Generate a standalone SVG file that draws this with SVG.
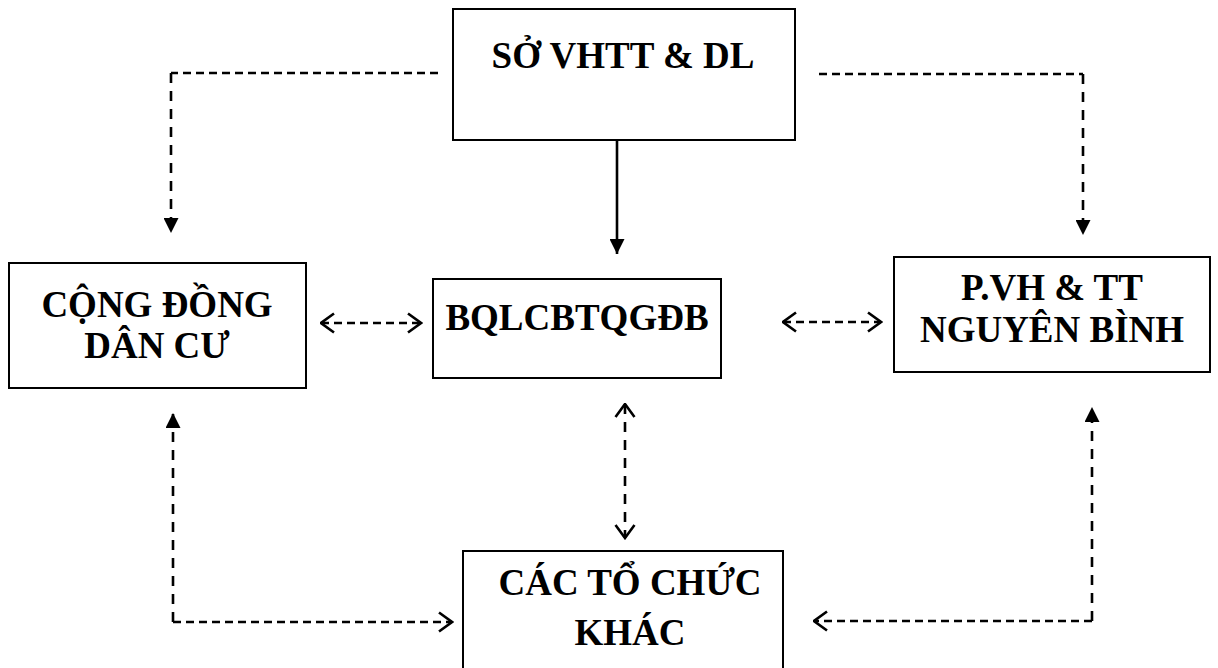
<svg xmlns="http://www.w3.org/2000/svg" width="1218" height="668" viewBox="0 0 1218 668">
<defs>
<marker id="fill" viewBox="0 0 10 10" refX="10" refY="5" markerWidth="15" markerHeight="15" markerUnits="userSpaceOnUse" orient="auto">
<path d="M0,0 L10,5 L0,10 Z" fill="#000"/>
</marker>
<marker id="open" viewBox="0 0 16 22" refX="14.5" refY="11" markerWidth="16" markerHeight="22" markerUnits="userSpaceOnUse" orient="auto-start-reverse">
<path d="M1.5,1.5 L14.5,11 L1.5,20.5" fill="none" stroke="#000" stroke-width="2.6"/>
</marker>
</defs>
<style>
.box{fill:#fff;stroke:#000;stroke-width:2}
.t{font-family:"Liberation Serif","Times New Roman",serif;font-weight:bold;font-size:37px;fill:#000;text-anchor:middle}
.c{fill:none;stroke:#000;stroke-width:2.6}
.h{stroke-dasharray:8 5}
.v{stroke-dasharray:10 8}
</style>
<rect width="1218" height="668" fill="#fff"/>
<g id="connectors">
<line class="c" x1="617" y1="141" x2="617" y2="254" marker-end="url(#fill)"/>
<path class="c h" d="M438,73 H171"/>
<path class="c v" d="M171,73 V233" marker-end="url(#fill)"/>
<path class="c h" d="M819,74 H1083"/>
<path class="c v" d="M1083,74 V235" marker-end="url(#fill)"/>
<line class="c h" x1="321" y1="323" x2="421" y2="323" marker-start="url(#open)" marker-end="url(#open)"/>
<line class="c h" x1="783" y1="322" x2="881" y2="322" marker-start="url(#open)" marker-end="url(#open)"/>
<line class="c v" x1="625" y1="404" x2="625" y2="538" marker-start="url(#open)" marker-end="url(#open)"/>
<path class="c v" d="M173,622 V413" marker-end="url(#fill)"/>
<path class="c h" d="M173,622 H452" marker-end="url(#open)"/>
<path class="c v" d="M1092,621 V407" marker-end="url(#fill)"/>
<path class="c h" d="M1092,621 H814" marker-end="url(#open)"/>
</g>
<g id="so-vhtt">
<rect class="box" x="453" y="9" width="342" height="131"/>
<text class="t" x="623" y="68">SỞ VHTT &amp; DL</text>
</g>
<g id="cong-dong">
<rect class="box" x="9" y="263" width="297" height="125"/>
<text class="t" x="157" y="317">CỘNG ĐỒNG</text>
<text class="t" x="157" y="358">DÂN CƯ</text>
</g>
<g id="bql">
<rect class="box" x="433" y="279" width="288" height="99"/>
<text class="t" x="577" y="330">BQLCBTQGĐB</text>
</g>
<g id="pvh">
<rect class="box" x="894" y="257" width="316" height="115"/>
<text class="t" x="1052" y="300">P.VH &amp; TT</text>
<text class="t" x="1052" y="342">NGUYÊN BÌNH</text>
</g>
<g id="to-chuc">
<rect class="box" x="463" y="551" width="320" height="130"/>
<text class="t" x="630" y="595">CÁC TỔ CHỨC</text>
<text class="t" x="630" y="645">KHÁC</text>
</g>
</svg>
